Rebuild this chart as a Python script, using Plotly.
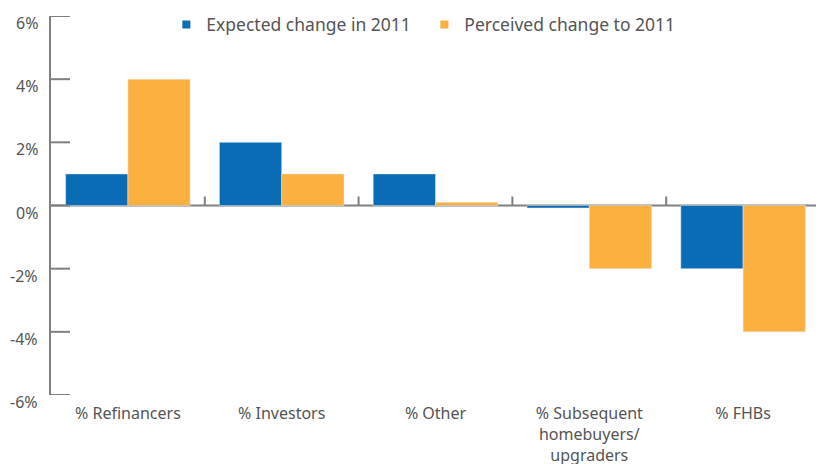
import plotly.graph_objects as go

categories = ["% Refinancers", "% Investors", "% Other",
              "% Subsequent<br>homebuyers/<br>upgraders", "% FHBs"]
expected_2011 = [1.0, 2.0, 1.0, -0.08, -2.0]
perceived_2011 = [4.0, 1.0, 0.1, -2.0, -4.0]
y_tick_vals = [-6, -4, -2, 0, 2, 4, 6]
y_tick_text = ["-6%", "-4%", "-2%", "0%", "2%", "4%", "6%"]

BLUE = "#0a6cb4"
ORANGE = "#fbb040"
GREY = "#808080"
TXT = "#555555"
FONT = "Noto Sans"

PLOT_W = 769   # plot-area width in px
TICK_PX = 19   # inward y-tick length in px

fig = go.Figure()
fig.add_trace(go.Bar(x=categories, y=expected_2011, marker_color=BLUE,
                     showlegend=False, name="Expected change in 2011"))
fig.add_trace(go.Bar(x=categories, y=perceived_2011, marker_color=ORANGE,
                     showlegend=False, name="Perceived change to 2011"))
# legend entries with small square markers
fig.add_trace(go.Scatter(x=[None], y=[None], mode="markers",
                         marker=dict(symbol="square", size=8, color=BLUE),
                         name="Expected change in 2011"))
fig.add_trace(go.Scatter(x=[None], y=[None], mode="markers",
                         marker=dict(symbol="square", size=8, color=ORANGE),
                         name="Perceived change to 2011"))

# inward y ticks drawn as a line trace on a hidden pixel-scaled x axis
tx, ty = [], []
for v in y_tick_vals:
    tx += [0, TICK_PX, None]
    ty += [v, v, None]
fig.add_trace(go.Scatter(x=tx, y=ty, xaxis="x2", mode="lines",
                         line=dict(color=GREY, width=2), showlegend=False,
                         hoverinfo="skip", cliponaxis=False))

# y tick labels, sitting slightly below their ticks as in the reference
for v, t in zip(y_tick_vals, y_tick_text):
    fig.add_annotation(xref="paper", yref="y", x=0, y=v, text=t,
                       showarrow=False, xanchor="right", yanchor="middle",
                       xshift=-11, yshift=-7,
                       font=dict(family=FONT, size=16, color=TXT))
# category boundary ticks on the zero line
for i in range(len(categories)):
    fig.add_shape(type="line", xref="x", yref="y", x0=i + 0.5, x1=i + 0.5,
                  ysizemode="pixel", yanchor=0, y0=0, y1=9,
                  line=dict(color=GREY, width=2))
# zero baseline
fig.add_shape(type="line", xref="x", yref="y", x0=-0.5, x1=len(categories) - 0.5,
              y0=0, y1=0, line=dict(color=GREY, width=2), layer="below")

# page body has an 8px margin, so the figure is sized/offset to compensate
fig.update_layout(
    width=816, height=456,
    margin=dict(l=43, r=4, t=8, b=69, autoexpand=False),
    plot_bgcolor="white", paper_bgcolor="white",
    font=dict(family=FONT, size=16, color=TXT),
    barmode="group", bargap=0.19, bargroupgap=0,
    legend=dict(orientation="h", x=0.15, y=1.025, xanchor="left", yanchor="top",
                font=dict(size=17.5, color=TXT), bgcolor="rgba(0,0,0,0)",
                entrywidth=213, itemsizing="trace"),
    xaxis=dict(type="category", showline=False, ticks="", showgrid=False,
               zeroline=False, tickfont=dict(size=16, color=TXT),
               ticklabelstandoff=7, automargin=False, range=[-0.5, 4.5]),
    xaxis2=dict(overlaying="x", range=[0, PLOT_W], visible=False,
                automargin=False),
    yaxis=dict(range=[-6, 6], tickvals=y_tick_vals, showticklabels=False,
               ticks="", showline=True, linecolor=GREY, linewidth=2,
               showgrid=False, zeroline=False, automargin=False),
)

fig.write_html("out.html")
